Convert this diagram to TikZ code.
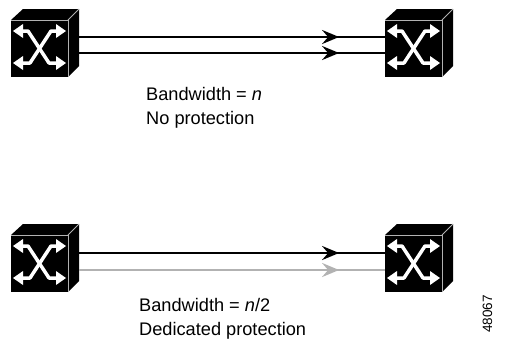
\documentclass[tikz,border=0pt]{standalone}
\usepackage{fontspec}
\setmainfont{Liberation Sans}
\usetikzlibrary{arrows.meta,decorations.markings}
\tikzset{
  x=1bp,y=-1bp,
  front/.style={draw=none,fill=black,minimum width=57bp,minimum height=57bp,inner sep=0pt,outer sep=0pt},
  captext/.style={anchor=base west,font=\fontsize{18.2bp}{22bp}\selectfont,inner sep=0pt},
  xline/.style={draw=white,line width=3.5bp,line join=round},
  xhead/.style={fill=white,draw=none},
  edgeln/.style={draw=black!30,line width=0.9bp},
  link/.style={line width=2.5bp,postaction={decorate},decoration={markings,mark=at position #1 with {\arrow{Stealth[length=17bp,width=14bp,inset=6bp]}}}},
}
\newcommand{\oxc}[3]{% name, x, y = top-left of front face
  \begin{scope}[shift={(#2,#3)}]
    \fill[black] (0,0) -- (12,-11) -- (68,-11) -- (68,46) -- (57,57) -- (57,0) -- cycle;
    \node[front] (#1) at (28.5,28.5) {};
    \draw[edgeln] (0,0) -- (57,0) -- (57,57);
    \draw[edgeln] (57,0) -- (68,-11);
    \draw[xline] (8,11) -- (17,11) -- (38,43) -- (46,43);
    \draw[xline] (49,11) -- (40,11) -- (19,43) -- (11,43);
    \fill[xhead] (2,11) -- (12,4) -- (12,18) -- cycle;
    \fill[xhead] (55,11) -- (45,4) -- (45,18) -- cycle;
    \fill[xhead] (2,43) -- (12,36) -- (12,50) -- cycle;
    \fill[xhead] (55,43) -- (45,36) -- (45,50) -- cycle;
  \end{scope}}
\begin{document}
\begin{tikzpicture}
\useasboundingbox (0,0) rectangle (521,345);
\oxc{a}{11}{20}
\oxc{b}{385}{20}
\oxc{c}{11}{235}
\oxc{d}{385}{235}
\coordinate (a1) at (79,37);
\coordinate (a2) at (79,53);
\coordinate (b1) at (b.west |- a1);
\coordinate (b2) at (b.west |- a2);
\coordinate (c1) at (79,253);
\coordinate (c2) at (79,270);
\coordinate (d1) at (d.west |- c1);
\coordinate (d2) at (d.west |- c2);
\draw[link=0.85] (a1) -- (b1);
\draw[link=0.85] (a2) -- (b2);
\draw[link=0.85] (c1) -- (d1);
\draw[link=0.85,draw=black!30,color=black!30] (c2) -- (d2);
\node[captext] (t1a) at (146,100) {Bandwidth = \textit{n}};
\node[captext] (t1b) at (146,124) {No protection};
\node[captext] (t2a) at (139,311) {Bandwidth = \textit{n}/2};
\node[captext] (t2b) at (139,335) {Dedicated protection};
\node[rotate=90,anchor=base west,font=\fontsize{13.5bp}{16bp}\selectfont,inner sep=0pt] (id) at (492,333) {48067};
\end{tikzpicture}
\end{document}
